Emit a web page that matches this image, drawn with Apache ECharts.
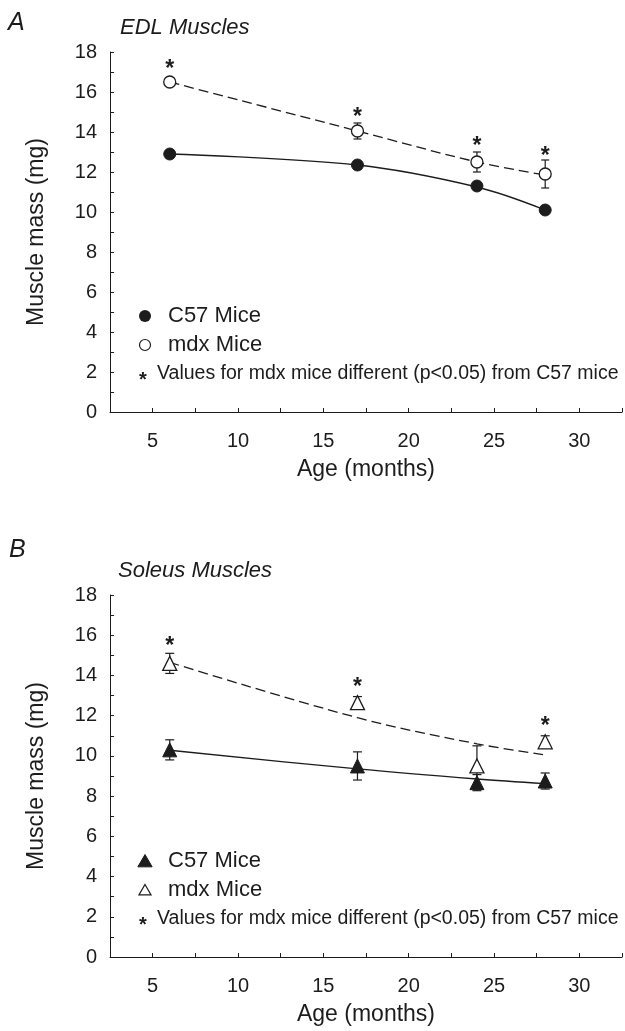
<!DOCTYPE html>
<html>
<head>
<meta charset="utf-8">
<script src="https://cdn.jsdelivr.net/npm/echarts@6/dist/echarts.min.js"></script>
<style>
html,body{margin:0;padding:0;background:#fff;}
#chart{width:625px;height:1031px;}
</style>
</head>
<body>
<div id="chart"></div>
<script>
// ---- data ----
var ages = [6, 17, 24, 28];
var xTickLabels = [5, 10, 15, 20, 25, 30];
var yTickLabels = [0, 2, 4, 6, 8, 10, 12, 14, 16, 18];

// Panel A: EDL
var edlC57 = [12.9, 12.35, 11.3, 10.1];
var edlC57Err = [0.15, 0.15, 0.2, 0.15];
var edlMdx = [16.5, 14.05, 12.5, 11.9];
var edlMdxErr = [0.15, 0.4, 0.5, 0.7];
var edlC57Fit = [12.9, 12.35, 11.25, 10.1];
var edlMdxFit = [16.5, 14.05, 12.5, 11.85];
var edlStars = [17.4, 15.0, 13.55, 13.07];

// Panel B: Soleus
var solC57 = [10.3, 9.5, 8.67, 8.75];
var solC57Err = [0.5, 0.7, 0.4, 0.4];
var solMdx = [14.6, 12.65, 9.5, 10.7];
var solMdxErr = [0.5, 0.3, 1.0, 0.3];
var solC57Fit = [10.28, 9.35, 8.85, 8.62];
var solMdxFit = [14.65, 11.9, 10.6, 10.05];
var solStars = [15.75, 13.7, null, 11.75];

var INK = '#1c1c1c';
var FONT = '"Liberation Sans", Arial, Helvetica, sans-serif';

function pairs(xs, ys) {
  var out = [];
  for (var i = 0; i < xs.length; i++) if (ys[i] != null) out.push([xs[i], ys[i]]);
  return out;
}
function errData(xs, ys, es) {
  return xs.map(function (x, i) { return [x, ys[i] - es[i], ys[i] + es[i]]; });
}

function xAxisCfg(gi) {
  return {
    type: 'value', gridIndex: gi, min: 2.5, max: 32.5, interval: 2.5,
    axisLine: { show: true, lineStyle: { color: INK, width: 1 } },
    axisTick: { show: true, inside: true, length: 4, lineStyle: { color: INK } },
    splitLine: { show: false },
    axisLabel: {
      fontSize: 20, color: INK, fontFamily: FONT, margin: 19,
      formatter: function (v) { return xTickLabels.indexOf(v) >= 0 ? String(v) : ''; }
    },
    name: 'Age (months)', nameLocation: 'middle', nameGap: 46,
    nameTextStyle: { fontSize: 23, color: INK, fontFamily: FONT }
  };
}
function yAxisCfg(gi) {
  return {
    type: 'value', gridIndex: gi, min: 0, max: 18, interval: 1,
    axisLine: { show: true, lineStyle: { color: INK, width: 1 } },
    axisTick: { show: true, inside: true, length: 4, lineStyle: { color: INK } },
    splitLine: { show: false },
    axisLabel: {
      fontSize: 20, color: INK, fontFamily: FONT, margin: 13,
      formatter: function (v) { return yTickLabels.indexOf(v) >= 0 ? String(v) : ''; }
    },
    name: 'Muscle mass (mg)', nameLocation: 'middle', nameGap: 62,
    nameTextStyle: { fontSize: 23, color: INK, fontFamily: FONT }
  };
}

function fitSeries(name, gi, ys, dashed) {
  return {
    name: name, type: 'line', xAxisIndex: gi, yAxisIndex: gi,
    data: pairs(ages, ys), smooth: 0.35, showSymbol: false, silent: true, z: 1,
    lineStyle: { color: INK, width: 1.3, type: dashed ? [10, 5] : 'solid' }
  };
}
function errSeries(name, gi, ys, es, capW) {
  return {
    name: name, type: 'custom', xAxisIndex: gi, yAxisIndex: gi, z: 2, silent: true,
    data: errData(ages, ys, es),
    renderItem: function (params, api) {
      var lo = api.coord([api.value(0), api.value(1)]);
      var hi = api.coord([api.value(0), api.value(2)]);
      var st = { stroke: INK, lineWidth: 1.2 };
      return {
        type: 'group', children: [
          { type: 'line', shape: { x1: lo[0], y1: lo[1], x2: hi[0], y2: hi[1] }, style: st },
          { type: 'line', shape: { x1: lo[0] - capW / 2, y1: lo[1], x2: lo[0] + capW / 2, y2: lo[1] }, style: st },
          { type: 'line', shape: { x1: hi[0] - capW / 2, y1: hi[1], x2: hi[0] + capW / 2, y2: hi[1] }, style: st }
        ]
      };
    }
  };
}
function markerSeries(name, gi, ys, symbol, size, filled) {
  return {
    name: name, type: 'scatter', xAxisIndex: gi, yAxisIndex: gi, z: 3,
    data: pairs(ages, ys), symbol: symbol, symbolSize: size,
    itemStyle: filled ? { color: INK, borderColor: INK, borderWidth: 1, opacity: 1 }
                      : { color: '#fff', borderColor: INK, borderWidth: 1.3, opacity: 1 },
    emphasis: { disabled: true }
  };
}
function starSeries(name, gi, ys) {
  return {
    name: name, type: 'custom', xAxisIndex: gi, yAxisIndex: gi, z: 4, silent: true,
    data: pairs(ages, ys),
    renderItem: function (params, api) {
      var p = api.coord([api.value(0), api.value(1)]);
      return {
        type: 'text', x: p[0], y: p[1] + 6,
        style: { text: '*', fontSize: 23, fontWeight: 'bold', fontFamily: FONT, fill: INK,
                 textAlign: 'center', textVerticalAlign: 'middle' }
      };
    }
  };
}

var legendTxt = { fontSize: 22, fill: INK, fontFamily: FONT, textVerticalAlign: 'middle' };
var noteTxt = { fontSize: 19.5, fill: INK, fontFamily: FONT, textVerticalAlign: 'middle' };
var note = 'Values for mdx mice different (p<0.05) from C57 mice';

function tri(cx, cy, s, filled) {
  return {
    type: 'polygon',
    shape: { points: [[cx, cy - s * 0.5], [cx + s * 0.55, cy + s * 0.45], [cx - s * 0.55, cy + s * 0.45]] },
    style: filled ? { fill: INK, stroke: INK, lineWidth: 1 } : { fill: '#fff', stroke: INK, lineWidth: 1.2 }
  };
}
function noteStar(y) {
  return { type: 'text', x: 143, y: y, style: { text: '*', fontSize: 20, fontWeight: 'bold', fill: INK, fontFamily: FONT, textAlign: 'center', textVerticalAlign: 'middle' } };
}

var option = {
  backgroundColor: '#fff',
  animation: false,
  textStyle: { fontFamily: FONT },
  title: [
    { text: 'A', left: 8, top: 11, padding: 0, textStyle: { fontSize: 25, fontStyle: 'italic', fontWeight: 'normal', color: INK, fontFamily: FONT } },
    { text: 'EDL Muscles', left: 120, top: 17, padding: 0, textStyle: { fontSize: 22, fontStyle: 'italic', fontWeight: 'normal', color: INK, fontFamily: FONT } },
    { text: 'B', left: 9, top: 538, padding: 0, textStyle: { fontSize: 25, fontStyle: 'italic', fontWeight: 'normal', color: INK, fontFamily: FONT } },
    { text: 'Soleus Muscles', left: 118, top: 560, padding: 0, textStyle: { fontSize: 22, fontStyle: 'italic', fontWeight: 'normal', color: INK, fontFamily: FONT } }
  ],
  grid: [
    { left: 110, top: 52, width: 514, height: 360 },
    { left: 110, top: 595, width: 514, height: 362 }
  ],
  xAxis: [xAxisCfg(0), xAxisCfg(1)],
  yAxis: [yAxisCfg(0), yAxisCfg(1)],
  series: [
    fitSeries('EDL C57 fit', 0, edlC57Fit, false),
    fitSeries('EDL mdx fit', 0, edlMdxFit, true),
    errSeries('EDL C57 err', 0, edlC57, edlC57Err, 8),
    errSeries('EDL mdx err', 0, edlMdx, edlMdxErr, 8),
    markerSeries('C57 Mice (EDL)', 0, edlC57, 'circle', 12, true),
    markerSeries('mdx Mice (EDL)', 0, edlMdx, 'circle', 12, false),
    starSeries('EDL significance', 0, edlStars),

    fitSeries('Soleus C57 fit', 1, solC57Fit, false),
    fitSeries('Soleus mdx fit', 1, solMdxFit, true),
    errSeries('Soleus C57 err', 1, solC57, solC57Err, 9),
    errSeries('Soleus mdx err', 1, solMdx, solMdxErr, 9),
    markerSeries('C57 Mice (Soleus)', 1, solC57, 'triangle', 14, true),
    markerSeries('mdx Mice (Soleus)', 1, solMdx, 'triangle', 14, false),
    starSeries('Soleus significance', 1, solStars)
  ],
  graphic: [
    { type: 'circle', shape: { cx: 145, cy: 316, r: 6 }, style: { fill: INK } },
    { type: 'text', x: 168, y: 316, style: Object.assign({ text: 'C57 Mice' }, legendTxt) },
    { type: 'circle', shape: { cx: 145, cy: 345, r: 5.5 }, style: { fill: '#fff', stroke: INK, lineWidth: 1.2 } },
    { type: 'text', x: 168, y: 345, style: Object.assign({ text: 'mdx Mice' }, legendTxt) },
    noteStar(380),
    { type: 'text', x: 157, y: 374, style: Object.assign({ text: note }, noteTxt) },

    tri(145, 861, 13, true),
    { type: 'text', x: 168, y: 861, style: Object.assign({ text: 'C57 Mice' }, legendTxt) },
    tri(145, 890, 11, false),
    { type: 'text', x: 168, y: 890, style: Object.assign({ text: 'mdx Mice' }, legendTxt) },
    noteStar(925),
    { type: 'text', x: 157, y: 919, style: Object.assign({ text: note }, noteTxt) }
  ]
};

var chart = echarts.init(document.getElementById('chart'), null, { renderer: 'canvas' });
chart.setOption(option);
</script>
</body>
</html>
